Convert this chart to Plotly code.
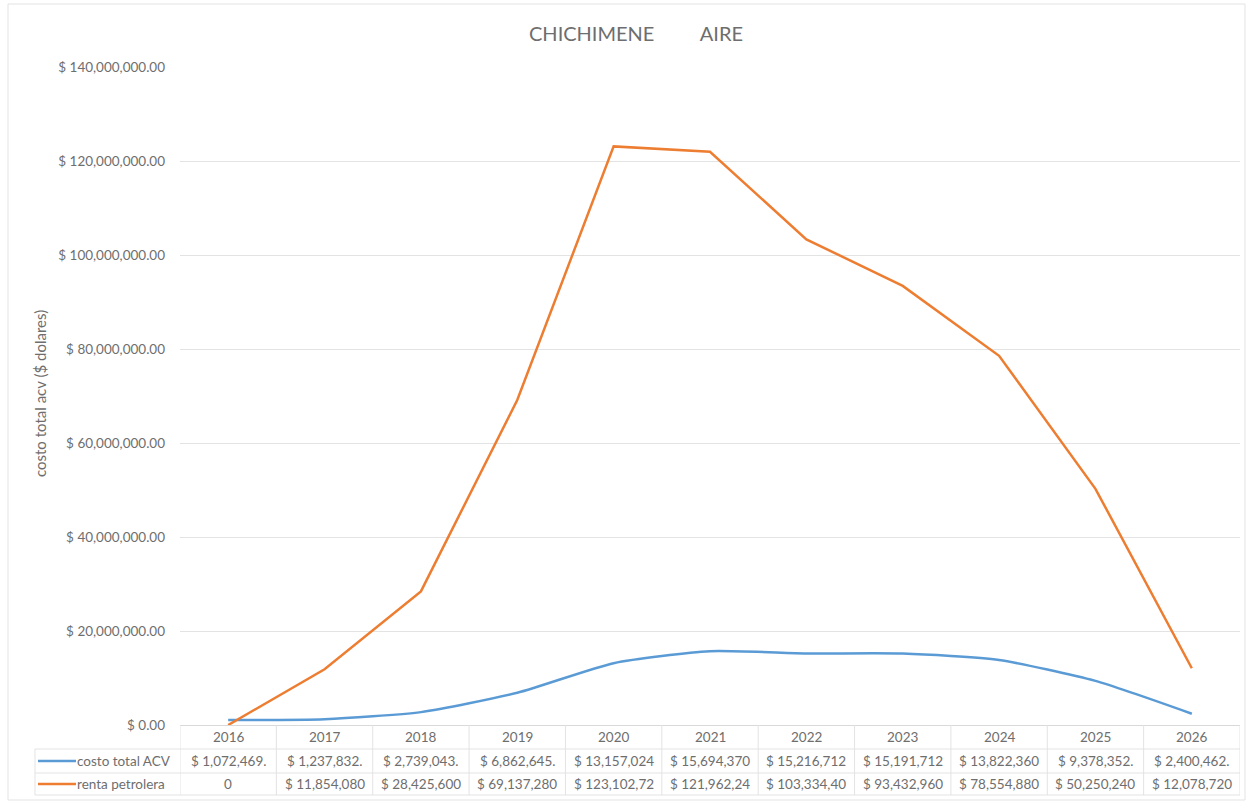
import plotly.graph_objects as go

years = [2016, 2017, 2018, 2019, 2020, 2021, 2022, 2023, 2024, 2025, 2026]
costo_total_acv = [1072469, 1237832, 2739043, 6862645, 13157024, 15694370,
                   15216712, 15191712, 13822360, 9378352, 2400462]
renta_petrolera = [0, 11854080, 28425600, 69137280, 123102720, 121962240,
                   103334400, 93432960, 78554880, 50250240, 12078720]
series_names = ["costo total ACV", "renta petrolera"]
y_ticks = [0, 20e6, 40e6, 60e6, 80e6, 100e6, 120e6, 140e6]

W, H = 1247, 804
L, R, T, B = 180, 7, 67, 79
PW, PH = W - L - R, H - T - B
BLUE, ORANGE = "#5B9BD5", "#ED7D31"
GRAY_TXT = "#6E6E6E"
GRID = "#E3E3E3"
FONT = "Lato"
TXT = 13.5


def px_x(x):
    return (x - L) / PW


def px_y(y):
    return (H - B - y) / PH


def cell_text(v):
    if v == 0:
        return "0"
    return ("$ {:,.2f}".format(v))[:12]


fig = go.Figure()
fig.add_trace(go.Scatter(x=years, y=costo_total_acv, name=series_names[0], mode="lines",
                         line=dict(color=BLUE, width=2.5, shape="spline", smoothing=0.6)))
fig.add_trace(go.Scatter(x=years, y=renta_petrolera, name=series_names[1], mode="lines",
                         line=dict(color=ORANGE, width=2.5)))

shapes = []
# outer chart frame
shapes.append(dict(type="rect", xref="paper", yref="paper",
                   x0=px_x(8), x1=px_x(1245), y0=px_y(800), y1=px_y(4),
                   line=dict(color=GRID, width=1), layer="below"))
# data table grid
y_top, y_r1, y_r2, y_bot = px_y(H - B), px_y(749), px_y(773), px_y(795)
for i in range(len(years) + 1):
    xv = years[0] - 0.5 + i
    shapes.append(dict(type="line", xref="x", yref="paper", x0=xv, x1=xv,
                       y0=y_bot, y1=y_top, line=dict(color=GRID, width=1)))
for yy in (y_r1, y_r2, y_bot):
    shapes.append(dict(type="line", xref="paper", yref="paper", x0=px_x(35), x1=1,
                       y0=yy, y1=yy, line=dict(color=GRID, width=1)))
shapes.append(dict(type="line", xref="paper", yref="paper", x0=px_x(35), x1=px_x(35),
                   y0=y_bot, y1=y_r1, line=dict(color=GRID, width=1)))

annotations = []
row_y = [px_y(761), px_y(784)]
for name, color, ry, vals in zip(series_names, [BLUE, ORANGE], row_y,
                                 [costo_total_acv, renta_petrolera]):
    shapes.append(dict(type="line", xref="paper", yref="paper", x0=px_x(38), x1=px_x(76),
                       y0=ry, y1=ry, line=dict(color=color, width=2.5)))
    annotations.append(dict(text=name, xref="paper", yref="paper", x=px_x(75), y=ry,
                            xanchor="left", yanchor="middle", showarrow=False,
                            font=dict(size=TXT, color=GRAY_TXT, family=FONT)))
    for yr, v in zip(years, vals):
        annotations.append(dict(text=cell_text(v), xref="x", yref="paper", x=yr, y=ry,
                                xanchor="center", yanchor="middle", showarrow=False,
                                font=dict(size=TXT, color=GRAY_TXT, family=FONT)))
# year header row
for yr in years:
    annotations.append(dict(text=str(yr), xref="x", yref="paper", x=yr, y=px_y(737),
                            xanchor="center", yanchor="middle", showarrow=False,
                            font=dict(size=TXT, color=GRAY_TXT, family=FONT)))

annotations.append(dict(text="costo total acv ($ dolares)", xref="paper", yref="paper",
                        x=px_x(40), y=px_y(394), textangle=-90, showarrow=False,
                        xanchor="center", yanchor="middle",
                        font=dict(size=15, color=GRAY_TXT, family=FONT)))
annotations.append(dict(text="CHICHIMENE" + "&nbsp;" * 9 + "AIRE", xref="paper", yref="paper",
                        x=px_x(636), y=px_y(33), showarrow=False,
                        xanchor="center", yanchor="middle",
                        font=dict(size=20, color=GRAY_TXT, family=FONT)))

fig.update_layout(
    width=W, height=H,
    margin=dict(l=L, r=R, t=T, b=B),
    paper_bgcolor="white", plot_bgcolor="white",
    showlegend=False,
    shapes=shapes, annotations=annotations,
    font=dict(family=FONT, color=GRAY_TXT, size=TXT),
    xaxis=dict(range=[years[0] - 0.5, years[-1] + 0.5], showgrid=False, zeroline=False,
               showline=False, ticks="", showticklabels=False),
    yaxis=dict(range=[0, 140e6], tickvals=y_ticks,
               ticktext=["$ {:,.2f}".format(v) for v in y_ticks],
               showgrid=True, gridcolor=GRID, gridwidth=1, zeroline=True,
               zerolinecolor="#D9D9D9", zerolinewidth=1, showline=False, ticks="",
               ticklabelstandoff=14, tickfont=dict(size=TXT, color=GRAY_TXT)),
)

fig.write_html("out.html")
